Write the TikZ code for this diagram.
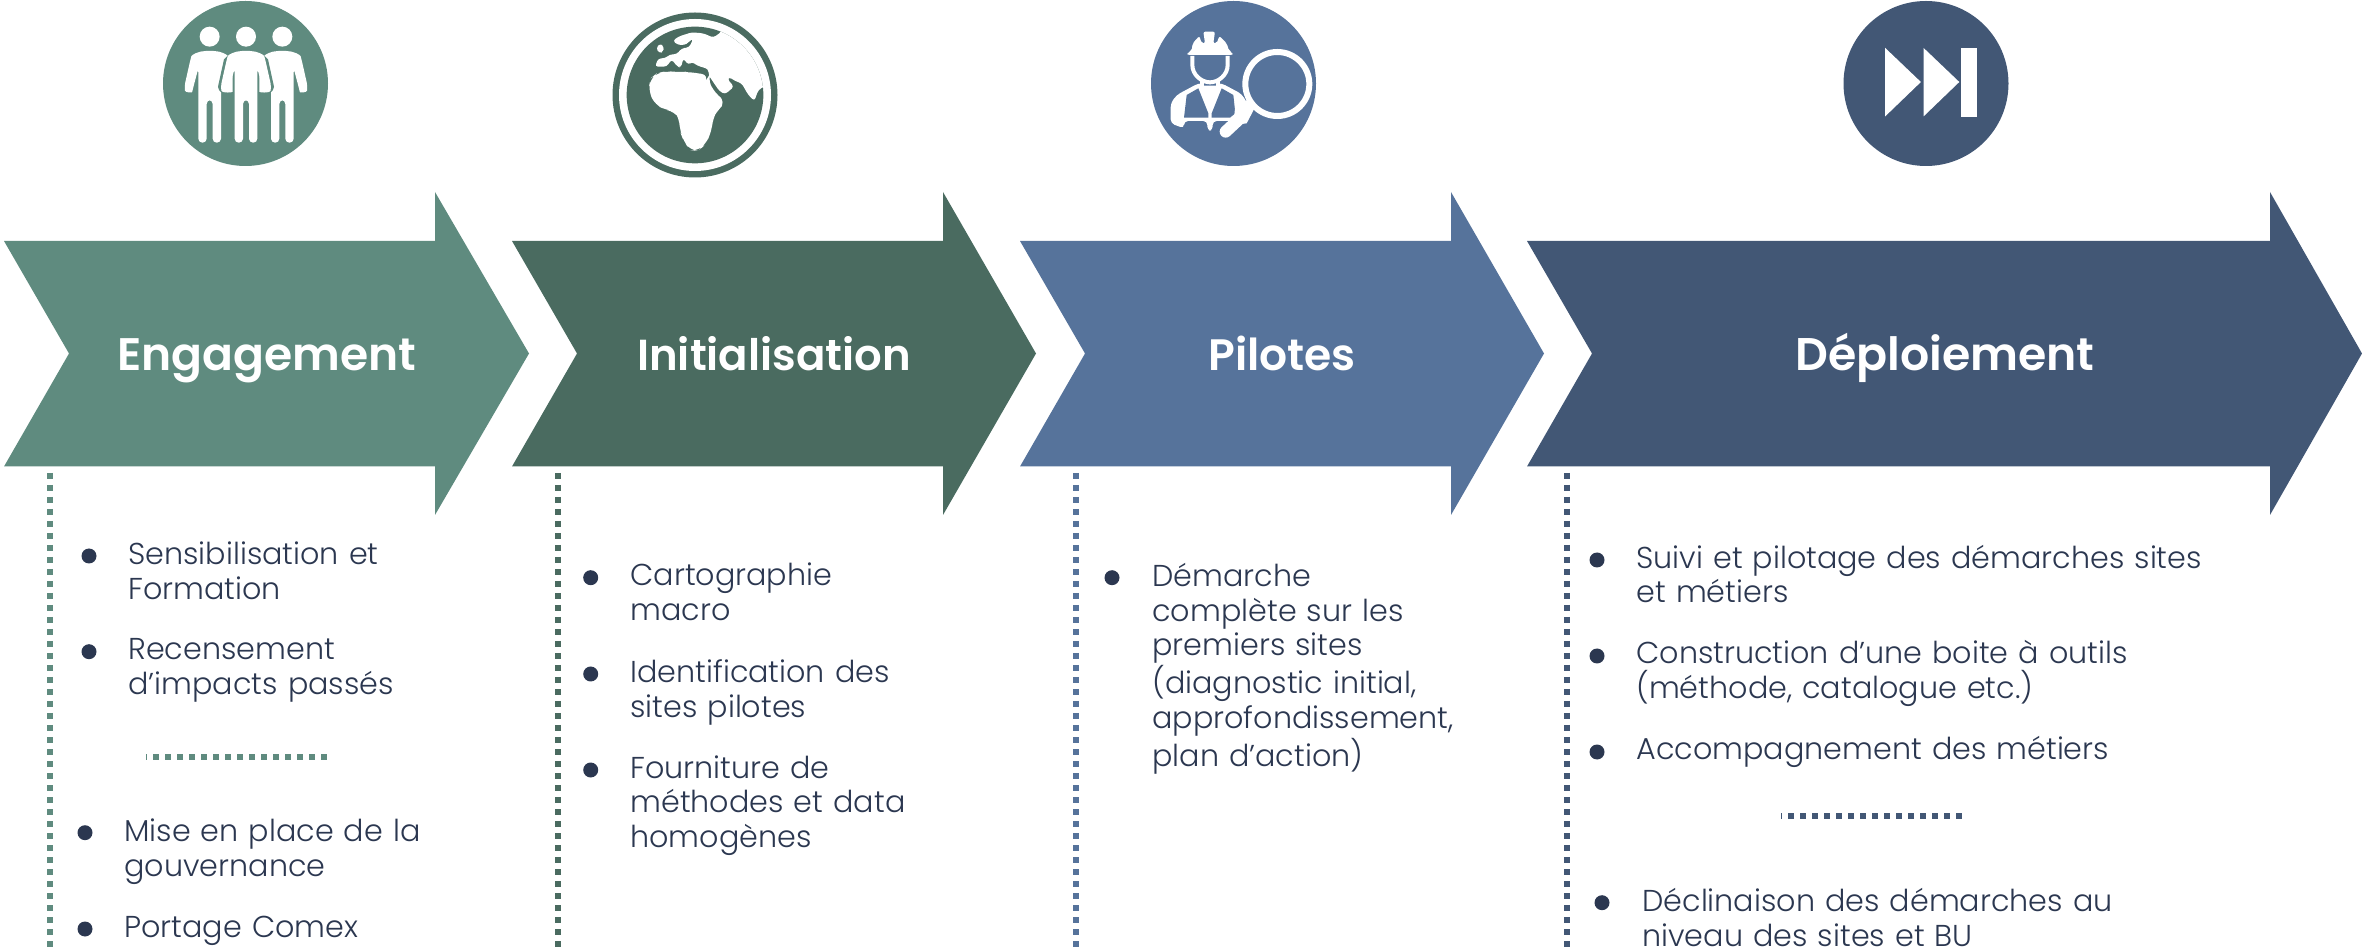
\documentclass[tikz,border=0pt]{standalone}
\usepackage{fontspec}
\setmainfont{Poppins}[UprightFont=*-Light,BoldFont=*-SemiBold]
\definecolor{cA}{HTML}{5F8B7F}
\definecolor{cB}{HTML}{4A6B60}
\definecolor{cC}{HTML}{56739B}
\definecolor{cD}{HTML}{425775}
\definecolor{ink}{HTML}{2B3750}
\tikzset{
  x=0.5pt,y=-0.5pt,
  disc/.style={circle,minimum size=82.5pt,inner sep=0pt},
  title/.style={text=white,inner sep=0pt,anchor=base},
  item/.style={text=ink,font=\fontsize{15.1}{17.3}\selectfont,inner sep=0pt,anchor=base west,text width=195pt,align=left},
  bull/.style={circle,fill=ink,minimum size=7.5pt,inner sep=0pt},
  dots/.style={line width=3pt,dash pattern=on 3pt off 3pt},
  tick/.style={line width=3pt,dash pattern=on 3pt off 3pt,dash phase=2.5pt},
}
\newcommand{\tsize}[1]{\fontsize{#1}{26}\selectfont\bfseries}
\newcommand{\chev}[5]{% color,left,notch,head,tip
  \fill[#1] (#2,241) -- (#4,241) -- (#4,192) -- (#5,353.5) -- (#4,515) -- (#4,466.5) -- (#2,466.5) -- (#3,353.5) -- cycle;}
\newcommand{\person}[1]{%
  \fill[rounded corners=2pt] (#1-34,368) -- (#1-34,145) -- (#1-50,205) .. controls (#1-53,218) and (#1-73,218) .. (#1-76,200) -- (#1-58,120) .. controls (#1-54,105) and (#1-34,93) .. (#1,93) .. controls (#1+34,93) and (#1+54,105) .. (#1+58,120) -- (#1+76,200) .. controls (#1+73,218) and (#1+53,218) .. (#1+50,205) -- (#1+34,145) -- (#1+34,368) -- (#1+9,368) -- (#1+9,240) -- (#1-9,240) -- (#1-9,368) -- cycle;}
\begin{document}
\begin{tikzpicture}
\useasboundingbox (0,0) rectangle (2362,951);
% chevrons
\chev{cA}{4}{69}{435}{529}
\chev{cB}{512}{577}{943}{1036}
\chev{cC}{1020}{1085}{1451}{1544}
\chev{cD}{1527}{1592}{2270}{2362}
\node[title,font=\tsize{22.8}] (t1) at (267,370.5) {Engagement};
\node[title,font=\tsize{21.7}] (t2) at (774,370.5) {Initialisation};
\node[title,font=\tsize{22}] (t3) at (1282,370.5) {Pilotes};
\node[title,font=\tsize{22.9}] (t4) at (1945,370.5) {Déploiement};
% icon discs
\node[disc,fill=cA] (i1) at (245.5,83.5) {};
\node[disc,fill=cB] (i2) at (695,95) {};
\node[disc,fill=cC] (i3) at (1233.5,83.5) {};
\node[disc,fill=cD] (i4) at (1926,83.5) {};
% people
\begin{scope}[shift={(170,20)},scale=1/3]
  \fill[white] (119,50) circle (30) (228,50) circle (30) (337,50) circle (30);
  \begin{scope}[white] \person{119} \person{337} \end{scope}
  \begin{scope}[white]
    \fill[cA] (228-40,145) -- (228-58,205) .. controls (228-60,228) and (228-80,222) .. (228-84,200) -- (228-66,118) -- (228-34,86) -- (228+34,86) -- (228+66,118) -- (228+84,200) .. controls (228+80,222) and (228+60,228) .. (228+58,205) -- (228+40,145) -- (228+40,240) -- (228-40,240) -- cycle;
    \person{228}
  \end{scope}
\end{scope}
% globe
\begin{scope}[shift={(620,15)},scale=1/3]
  \fill[white] (225,240) circle (228);
  \fill[cB] (225,240) circle (205);
  \begin{scope}
    \clip (225,240) circle (205);
    \fill[white,rounded corners=1.5pt] (305,50) -- (280,68) -- (250,55) -- (215,52) -- (175,65) -- (158,78) -- (175,90) -- (195,90) -- (205,82) -- (220,70) -- (208,97) -- (185,100) -- (170,118) -- (150,118) -- (135,130) -- (115,130) -- (105,155) -- (140,155) -- (155,133) -- (172,155) -- (183,158) -- (190,130) -- (205,150) -- (215,140) -- (232,152) -- (265,162) -- (266,180) -- (272,190) -- (298,228) -- (315,238) -- (342,215) -- (322,192) -- (328,186) -- (345,198) -- (365,205) -- (385,240) -- (403,258) -- (415,225) -- (435,213) -- (470,213) -- (470,0) -- (305,0) -- cycle;
    \fill[white,rounded corners=4pt] (85,225) -- (92,190) -- (110,175) -- (140,168) -- (175,172) -- (200,170) -- (268,180) -- (262,190) -- (285,235) -- (318,260) -- (290,290) -- (278,310) -- (275,350) -- (255,390) -- (235,407) -- (210,407) -- (190,375) -- (180,350) -- (178,310) -- (165,290) -- (140,285) -- (105,270) -- cycle;
    \fill[white,rounded corners=1.5pt] (108,100) -- (120,85) -- (132,95) -- (130,110) -- (118,115) -- cycle;
  \end{scope}
\end{scope}
% worker
\begin{scope}[shift={(1160,20)},scale=1/3]
  \fill[white,rounded corners=1pt] (82,105) -- (82,98) -- (95,92) -- (98,70) -- (118,48) -- (125,70) -- (135,70) -- (130,35) -- (165,35) -- (160,70) -- (170,70) -- (178,48) -- (200,70) -- (207,92) -- (218,98) -- (218,105) -- cycle;
  \fill[white,rounded corners=2pt] (32,310) -- (32,250) -- (50,225) -- (115,190) -- (185,190) -- (245,222) -- (265,255) -- (250,280) -- (215,303) -- (158,303) -- (158,332) -- (142,332) -- (142,303) -- (72,303) -- (72,325) -- cycle;
  \fill[cC] (80,225) -- (115,205) -- (145,280) -- (145,293) -- (72,293) -- cycle;
  \fill[cC] (155,293) -- (155,280) -- (185,205) -- (220,225) -- (226,280) -- (210,293) -- cycle;
  \fill[cC] (115,180) -- (185,180) -- (178,197) -- (122,197) -- cycle;
  \draw[white,line width=2pt] (120,200) .. controls (135,208) and (165,208) .. (180,200);
  \draw[white,line width=2pt] (97,108) -- (97,135) .. controls (97,165) and (125,187) .. (150,187) .. controls (175,187) and (203,165) .. (203,135) -- (203,108);
  \draw[white,line width=2pt] (125,180) -- (125,198) (175,180) -- (175,198);
  \draw[white,line width=3pt] (352,192) circle (96);
  \draw[white,line width=6pt,line cap=round] (240,295) -- (197,335);
  \fill[white] (262,240) -- (285,262) -- (260,310) -- (220,315) -- (225,265) -- cycle;
\end{scope}
% fast-forward
\begin{scope}[shift={(1120,0)}]
  \fill[white] (1395/1.823,144/3) -- (1460/1.823,246/3) -- (1395/1.823,349/3) -- cycle;
  \fill[white] (1465/1.823,144/3) -- (1530/1.823,246/3) -- (1465/1.823,349/3) -- cycle;
  \fill[white] (1534/1.823,144/3) rectangle (1562/1.823,350/3);
\end{scope}
% dotted rules
\coordinate (a1) at (50,473); \coordinate (b1) at (50,951);
\coordinate (a2) at (558,473); \coordinate (b2) at (558,951);
\coordinate (a3) at (1076,473); \coordinate (b3) at (1076,951);
\coordinate (a4) at (1567,473); \coordinate (b4) at (1567,951);
\coordinate (s1) at (146,756.7); \coordinate (e1) at (329,756.7);
\coordinate (s4) at (1781,816); \coordinate (e4) at (1963,816);
\draw[dots,cA] (a1) -- (b1); \draw[dots,cB] (a2) -- (b2);
\draw[dots,cC] (a3) -- (b3); \draw[dots,cD] (a4) -- (b4);
\draw[tick,cA] (s1) -- (e1); \draw[tick,cD] (s4) -- (e4);
% column 1
\node[bull] at (89,556) {};
\node[item] at (128,565) {Sensibilisation et\\Formation};
\node[bull] at (89,651.7) {};
\node[item] at (128,660) {Recensement\\d’impacts passés};
\node[bull] at (85,832.7) {};
\node[item] at (124,841.7) {Mise en place de la\\gouvernance};
\node[bull] at (85,929) {};
\node[item] at (124,937) {Portage Comex};
% column 2
\node[bull] at (590.7,577.7) {};
\node[item] at (630,586) {Cartographie\\macro};
\node[bull] at (590.7,674) {};
\node[item] at (630,682.7) {Identification des\\sites pilotes};
\node[bull] at (590.7,770) {};
\node[item] at (630,778) {Fourniture de\\méthodes et data\\homogènes};
% column 3
\node[bull] at (1112,577.7) {};
\node[item] at (1152,586.7) {Démarche\\complète sur les\\premiers sites\\(diagnostic initial,\\approfondissement,\\plan d’action)};
% column 4
\node[bull] at (1597,560) {};
\node[item,text width=320pt] at (1636,568.3) {Suivi et pilotage des démarches sites\\et métiers};
\node[bull] at (1597,656) {};
\node[item,text width=320pt] at (1636,664) {Construction d’une boite à outils\\(méthode, catalogue etc.)};
\node[bull] at (1597,752) {};
\node[item,text width=320pt] at (1636,760) {Accompagnement des métiers};
\node[bull] at (1602,902.7) {};
\node[item,text width=320pt] at (1642,911.7) {Déclinaison des démarches au\\niveau des sites et BU};
\end{tikzpicture}
\end{document}
